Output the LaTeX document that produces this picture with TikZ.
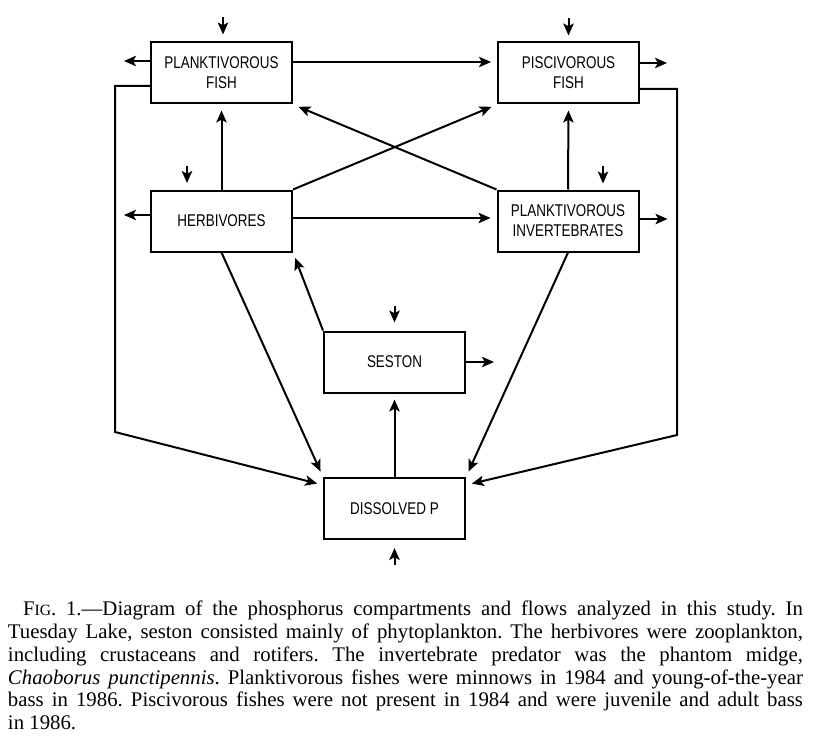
\documentclass[tikz,border=0pt]{standalone}
\usepackage{fontspec}
\setmainfont{Liberation Serif}
\newfontfamily\boxfont[FakeStretch=0.79]{Liberation Sans}
\usetikzlibrary{arrows.meta,calc}

\begin{document}
\begin{tikzpicture}[x=0.5pt, y=-0.5pt, line width=1pt,
	>={Stealth[length=6pt,width=5.2pt,inset=1.4pt]},
	compbox/.style={draw, minimum width=70.5pt, minimum height=30.5pt, inner sep=0pt,
		align=center, font=\boxfont\fontsize{8.5}{10}\selectfont},
	flow/.style={->, shorten >=3pt}]
	\useasboundingbox (0,0) rectangle (822,743);
	% compartments
	\node[compbox] (pf) at (221.5,73) {PLANKTIVOROUS\\FISH};
	\node[compbox] (psf) at (568.5,73) {PISCIVOROUS\\FISH};
	\node[compbox] (hb) at (221.5,221) {HERBIVORES};
	\node[compbox] (pi) at (568,221) {PLANKTIVOROUS\\INVERTEBRATES};
	\node[compbox] (ses) at (394.5,362) {SESTON};
	\node[compbox] (dp) at (394.5,508.5) {DISSOLVED P};
	\coordinate (lbend) at (115,432);
	\coordinate (rbend) at (677,435);
	% inputs
	\draw[->] ($(pf.north)+(1.5,-24)$) -- ++(0,17);
	\draw[->] ($(psf.north)+(0,-23)$) -- ++(0,17);
	\draw[->] ($(hb.north)+(-34.5,-23.5)$) -- ++(0,17);
	\draw[->] ($(pi.north)+(35,-23)$) -- ++(0,17);
	\draw[->] ($(ses.north)+(0,-25)$) -- ++(0,17);
	\draw[->] ($(dp.south)+(0,25)$) -- ++(0,-17);
	% losses
	\draw[->] ([yshift=6pt]pf.west) -- ++(-26,0);
	\draw[->] ([yshift=3pt]hb.west) -- ++(-26,0);
	\draw[->] ([yshift=5pt]psf.east) -- ++(27,0);
	\draw[->] ([yshift=1pt]pi.east) -- ++(28,0);
	\draw[->] (ses.east) -- ++(28,0);
	% flows between compartments
	\draw[flow] ([yshift=5.5pt]pf.east) -- ([yshift=5.5pt]psf.west);
	\draw[flow] ([yshift=1.5pt]hb.east) -- ([yshift=1.5pt]pi.west);
	\draw[flow] (hb.north) -- (pf.south);
	\draw[flow] (pi.north) -- (psf.south);
	\draw[flow] (hb.north east) -- (psf.south west);
	\draw[flow] (pi.north west) -- (pf.south east);
	\draw[flow] (ses.north west) -- (hb.south east);
	\draw[flow] (dp.north) -- (ses.south);
	\draw[flow] (hb.south) -- (dp.north west);
	\draw[flow] (pi.south) -- (dp.north east);
	\draw[flow] ([yshift=-6.5pt]pf.west) -| (lbend) -- ($(dp.north west)+(0,8)$);
	\draw[flow] ([yshift=-8pt]psf.east) -| (rbend) -- ($(dp.north east)+(0,8)$);
	% caption
	\node[anchor=north west, inner sep=0pt, text width=397.5pt, align=justify,
		font=\fontsize{10.4}{11.4}\selectfont\frenchspacing] (cap) at (7,600)
		{\hspace*{7.5pt}F{\fontsize{7.8}{8}\selectfont IG}. 1.---Diagram of the phosphorus compartments and flows analyzed in this study. In\linebreak
		Tuesday Lake, seston consisted mainly of phytoplankton. The herbivores were zooplankton,\linebreak
		including crustaceans and rotifers. The invertebrate predator was the phantom midge,\linebreak
		\textit{Chaoborus punctipennis}. Planktivorous fishes were minnows in 1984 and young-of-the-year\linebreak
		bass in 1986. Piscivorous fishes were not present in 1984 and were juvenile and adult bass\linebreak
		in 1986.};
\end{tikzpicture}
\end{document}
